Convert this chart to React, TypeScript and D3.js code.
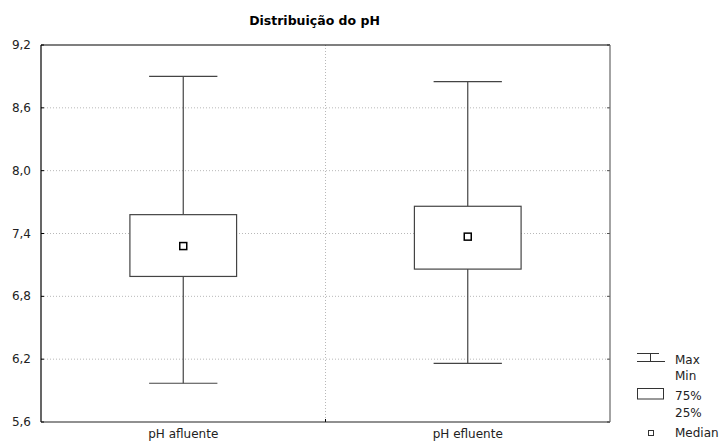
import * as d3 from 'd3';

// box plot data
const categories = ['pH afluente', 'pH efluente'];
const maxValues = [8.9, 8.85];
const q75Values = [7.58, 7.66];
const medianValues = [7.28, 7.37];
const q25Values = [6.99, 7.06];
const minValues = [5.97, 6.16];
const yTicks = [5.6, 6.2, 6.8, 7.4, 8.0, 8.6, 9.2];

const W = 720;
const H = 444;
const FONT = '"DejaVu Sans", Verdana, sans-serif';

export default function App() {
    const margin = { top: 45, right: 110, bottom: 22, left: 41 };
    const x = d3.scaleBand<string>()
        .domain(categories)
        .range([margin.left, W - margin.right])
        .padding(0);
    const y = d3.scaleLinear()
        .domain([5.6, 9.2])
        .range([H - margin.bottom, margin.top]);

    const bw = x.bandwidth();
    const boxW = bw * 0.375;
    const capW = bw * 0.24;
    const fmt = (v: number) => v.toFixed(1).replace('.', ',');
    const x0 = margin.left;
    const x1 = W - margin.right;
    const y0 = y(5.6);
    const y1 = y(9.2);
    const boxes = categories.map((c, i) => ({
        c,
        cx: (x(c) || 0) + bw / 2,
        max: maxValues[i],
        q75: q75Values[i],
        med: medianValues[i],
        q25: q25Values[i],
        min: minValues[i],
    }));

    return (
        <svg width={W} height={H} style={{ position: 'absolute', left: 0, top: 0, background: '#fff' }}
            fontFamily={FONT}>
            <text x={314.5} y={25} textAnchor="middle" fontSize={12.5} fontWeight="bold" fill="#000">
                Distribuição do pH
            </text>

            {/* grid */}
            {yTicks.slice(1, -1).map(t => (
                <line key={'g' + t} x1={x0} x2={x1} y1={y(t)} y2={y(t)}
                    stroke="#b8b8b8" strokeWidth={1} strokeDasharray="1,2" />
            ))}
            <line x1={(x0 + x1) / 2} x2={(x0 + x1) / 2} y1={y1} y2={y0}
                stroke="#b8b8b8" strokeWidth={1} strokeDasharray="1,2" />

            {/* ticks */}
            {yTicks.map(t => (
                <g key={'t' + t}>
                    <line x1={x0} x2={x0 + 3} y1={y(t)} y2={y(t)} stroke="#000" />
                    <line x1={x1 - 3} x2={x1} y1={y(t)} y2={y(t)} stroke="#555" />
                    <text x={31} y={y(t)} textAnchor="end" dominantBaseline="central"
                        fontSize={12} fill="#222">{fmt(t)}</text>
                </g>
            ))}
            <line x1={(x0 + x1) / 2} x2={(x0 + x1) / 2} y1={y0} y2={y0 - 3} stroke="#000" />

            {/* boxes */}
            {boxes.map(b => (
                <g key={b.c} stroke="#444" strokeWidth={1.2} fill="none">
                    <line x1={b.cx} x2={b.cx} y1={y(b.max)} y2={y(b.q75)} />
                    <line x1={b.cx} x2={b.cx} y1={y(b.q25)} y2={y(b.min)} />
                    <line x1={b.cx - capW / 2} x2={b.cx + capW / 2} y1={y(b.max)} y2={y(b.max)} />
                    <line x1={b.cx - capW / 2} x2={b.cx + capW / 2} y1={y(b.min)} y2={y(b.min)} />
                    <rect x={b.cx - boxW / 2} y={y(b.q75)} width={boxW} height={y(b.q25) - y(b.q75)}
                        fill="#fff" />
                    <rect x={b.cx - 3.5} y={y(b.med) - 3.5} width={7} height={7}
                        fill="#fff" stroke="#000" strokeWidth={1.5} />
                </g>
            ))}

            {/* x labels */}
            {categories.map(c => (
                <text key={'x' + c} x={(x(c) || 0) + bw / 2} y={438} textAnchor="middle"
                    fontSize={12} fill="#222">{c}</text>
            ))}

            {/* frame */}
            <line x1={x0} x2={x1} y1={y1} y2={y1} stroke="#000" strokeWidth={1.2} />
            <line x1={x0} x2={x0} y1={y1} y2={y0} stroke="#000" strokeWidth={1.2} />
            <line x1={x0} x2={x1} y1={y0} y2={y0} stroke="#222" strokeWidth={1.2} />
            <line x1={x1} x2={x1} y1={y1} y2={y0} stroke="#666" strokeWidth={1.2} />

            {/* legend */}
            <g stroke="#333" strokeWidth={1} fill="none">
                <line x1={637} x2={659} y1={353.5} y2={353.5} />
                <line x1={650.5} x2={650.5} y1={353.5} y2={361.5} />
                <line x1={637} x2={665} y1={361.5} y2={361.5} />
                <rect x={637.5} y={388.5} width={26} height={10.5} />
                <rect x={648.5} y={430.5} width={5} height={5} />
            </g>
            <g fontSize={12} fill="#222">
                <text x={675} y={364}>Max</text>
                <text x={675} y={380}>Min</text>
                <text x={675} y={400}>75%</text>
                <text x={675} y={417}>25%</text>
                <text x={675} y={437}>Median</text>
            </g>
        </svg>
    );
}
